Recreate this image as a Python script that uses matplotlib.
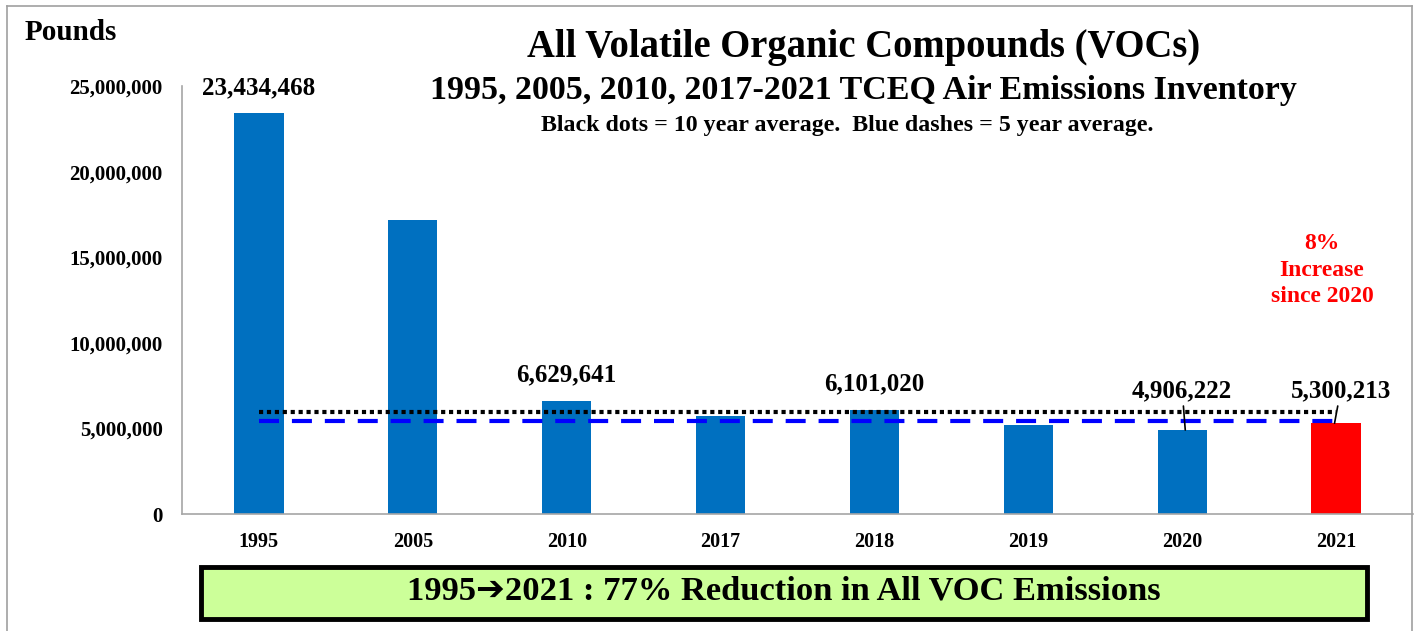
import matplotlib.pyplot as plt
from matplotlib.patches import Rectangle
from matplotlib.lines import Line2D

# ---------- data ----------
years = ["1995", "2005", "2010", "2017", "2018", "2019", "2020", "2021"]
pounds = [23434468, 17200000, 6629641, 5720000, 6101020, 5200000, 4906222, 5300213]
bar_colors = ["#0070C0"] * 7 + ["#FF0000"]
labelled = ["1995", "2010", "2018"]          # labels right above the bar
avg_10yr = 5940000
avg_5yr = 5446000
y_ticks = [0, 5000000, 10000000, 15000000, 20000000, 25000000]

plt.rcParams["font.family"] = ["Liberation Serif", "DejaVu Sans"]
plt.rcParams["font.weight"] = "bold"

W, H = 1416, 631
fig = plt.figure(figsize=(W / 100, H / 100), dpi=100)


def fx(px):
    return px / W


def fy(py):
    return 1 - py / H


ax = fig.add_axes([fx(182), fy(514), fx(1413 - 182), (514 - 86) / H])

x = list(range(len(years)))
ax.bar(x, pounds, width=0.32, color=bar_colors, zorder=2)

# averages
ax.plot([0, 7], [avg_10yr, avg_10yr], color="black", lw=3,
        ls=(0, (1, 0.9)), zorder=3)
ax.plot([0, 7], [avg_5yr, avg_5yr], color="#0000FF", lw=3,
        ls=(0, (4.8, 3.1)), zorder=3)

# value labels
for i, (yr, v) in enumerate(zip(years, pounds)):
    if yr in labelled:
        ax.annotate(f"{v:,}", (i, v), xytext=(0, 10), textcoords="offset points",
                    ha="center", va="bottom", fontsize=18, fontweight="bold")

i20 = years.index("2020")
ax.annotate(f"{pounds[i20]:,}", xy=(i20 + 0.02, pounds[i20]), xytext=(i20, 6550000),
            ha="center", va="bottom", fontsize=18, fontweight="bold",
            arrowprops=dict(arrowstyle="-", color="black", lw=1.2,
                            shrinkA=1, shrinkB=0))
i21 = years.index("2021")
ax.annotate(f"{pounds[i21]:,}", xy=(i21 - 0.01, pounds[i21]), xytext=(i21 + 0.03, 6550000),
            ha="center", va="bottom", fontsize=18, fontweight="bold",
            arrowprops=dict(arrowstyle="-", color="black", lw=1.2,
                            shrinkA=1, shrinkB=0))

ax.set_xlim(-0.5, 7.5)
ax.set_ylim(0, 25000000)
ax.set_xticks(x)
ax.set_xticklabels(years, fontsize=14.5, fontweight="bold")
ax.set_yticks(y_ticks)
ax.set_yticklabels([f"{t:,}" for t in y_ticks], fontsize=15, fontweight="bold")
ax.tick_params(length=0)
ax.tick_params(axis="y", pad=14)
ax.tick_params(axis="x", pad=13)
for s in ["top", "right"]:
    ax.spines[s].set_visible(False)
for s in ["left", "bottom"]:
    ax.spines[s].set_color("#A6A6A6")
    ax.spines[s].set_linewidth(1.2)

# titles
fig.text(fx(864), fy(47), "All Volatile Organic Compounds (VOCs)",
         ha="center", va="center", fontsize=27.8, fontweight="bold")
fig.text(fx(863), fy(91), "1995, 2005, 2010, 2017-2021 TCEQ Air Emissions Inventory",
         ha="center", va="center", fontsize=24.5, fontweight="bold")
fig.text(fx(847), fy(126), "Black dots = 10 year average.  Blue dashes = 5 year average.",
         ha="center", va="center", fontsize=17.2, fontweight="bold")
fig.text(fx(25), fy(32), "Pounds", ha="left", va="center",
         fontsize=21, fontweight="bold")

fig.text(fx(1322), fy(270), "8%\nIncrease\nsince 2020", ha="center", va="center",
         fontsize=17, fontweight="bold", color="#FF0000", linespacing=1.35)

# bottom summary box
fig.patches.append(Rectangle((fx(201), fy(619)), fx(1367 - 201), (619 - 567) / H,
                             transform=fig.transFigure, facecolor="#CCFF99",
                             edgecolor="black", lw=3.5))
fig.text(fx(784), fy(591), "1995\u27942021 : 77% Reduction in All VOC Emissions",
         ha="center", va="center", fontsize=24.8, fontweight="bold")

# outer border
for xs, ys in [([7, 7], [6, 631]), ([7, 1412], [6, 6]), ([1412, 1412], [6, 631])]:
    fig.add_artist(Line2D([fx(v) for v in xs], [fy(v) for v in ys],
                          transform=fig.transFigure, color="#A0A0A0", lw=1.2))

fig.savefig("out.png", dpi=100)
